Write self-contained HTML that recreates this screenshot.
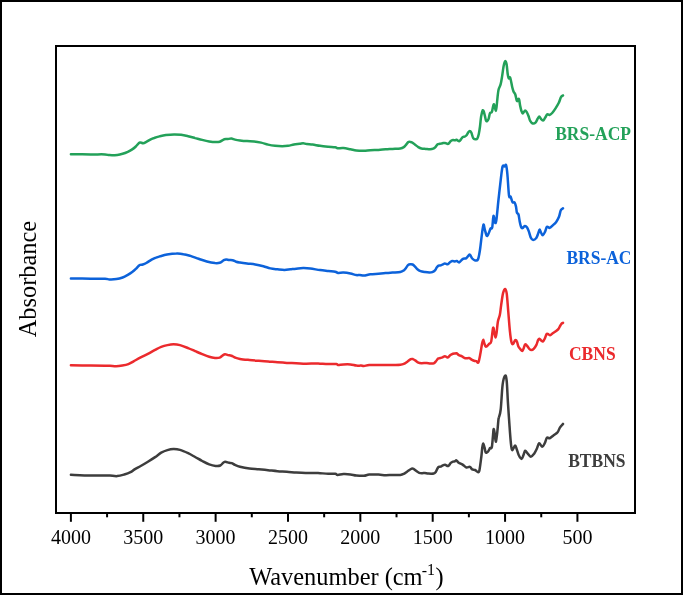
<!DOCTYPE html>
<html><head><meta charset="utf-8"><style>
html,body{margin:0;padding:0;background:#fff;}
svg{display:block;will-change:transform;}
text{font-family:"Liberation Serif",serif;}
</style></head><body>
<svg width="683" height="595" viewBox="0 0 683 595">
<rect x="0" y="0" width="683" height="595" fill="#fff"/>
<rect x="1" y="1" width="681" height="593" fill="none" stroke="#000" stroke-width="2"/>
<g fill="none" stroke-width="2.5" stroke-linejoin="round" stroke-linecap="round">
<path stroke="#23a159" d="M70.9,154.2 C74.20,154.23 85.02,154.37 90.7,154.4 C96.38,154.43 101.88,154.28 105.0,154.4 C108.12,154.52 107.35,155.02 109.4,155.1 C111.45,155.18 115.10,155.12 117.3,154.9 C119.50,154.68 120.85,154.32 122.6,153.8 C124.35,153.28 126.20,152.53 127.8,151.8 C129.40,151.07 130.87,150.28 132.2,149.4 C133.53,148.52 134.77,147.47 135.8,146.5 C136.83,145.53 137.68,144.28 138.4,143.6 C139.12,142.92 139.30,142.47 140.1,142.4 C140.90,142.33 142.17,143.28 143.2,143.2 C144.23,143.12 145.05,142.53 146.3,141.9 C147.55,141.27 149.38,140.06 150.7,139.4 C152.02,138.75 152.73,138.47 154.2,138.0 C155.67,137.47 157.55,136.90 159.5,136.4 C161.45,135.94 163.48,135.45 165.9,135.1 C168.32,134.77 171.47,134.44 174.0,134.4 C176.53,134.34 178.75,134.53 181.1,134.8 C183.45,135.14 185.77,135.68 188.1,136.2 C190.43,136.76 192.75,137.45 195.1,138.1 C197.45,138.69 199.85,139.36 202.2,139.9 C204.55,140.50 206.97,141.11 209.2,141.5 C211.43,141.85 213.85,142.09 215.6,142.1 C217.35,142.17 218.23,142.17 219.7,141.7 C221.17,141.23 223.13,139.73 224.4,139.3 C225.67,138.87 226.13,139.22 227.3,139.1 C228.47,138.98 230.12,138.52 231.4,138.6 C232.68,138.68 233.57,139.30 235.0,139.6 C236.43,139.90 238.00,140.15 240.0,140.4 C242.00,140.65 244.65,140.93 247.0,141.1 C249.35,141.27 251.75,141.15 254.1,141.4 C256.45,141.65 258.77,142.07 261.1,142.6 C263.43,143.13 265.77,144.07 268.1,144.6 C270.43,145.13 272.75,145.53 275.1,145.8 C277.45,146.07 280.05,146.20 282.2,146.2 C284.35,146.20 286.05,146.07 288.0,145.8 C289.95,145.53 291.95,144.93 293.9,144.6 C295.85,144.27 298.15,144.03 299.7,143.8 C301.25,143.57 302.03,143.15 303.2,143.2 C304.37,143.25 305.13,143.87 306.7,144.1 C308.27,144.33 310.38,144.32 312.6,144.6 C314.82,144.88 317.40,145.45 320.0,145.8 C322.60,146.15 325.67,146.45 328.2,146.7 C330.73,146.95 333.63,147.05 335.2,147.3 C336.77,147.55 336.23,148.07 337.6,148.2 C338.97,148.33 341.27,147.92 343.4,148.1 C345.53,148.28 348.25,148.90 350.4,149.3 C352.55,149.70 354.05,150.25 356.3,150.5 C358.55,150.75 361.55,150.85 363.9,150.8 C366.25,150.75 367.97,150.35 370.4,150.2 C372.83,150.05 375.97,150.05 378.5,149.9 C381.03,149.75 383.25,149.47 385.6,149.3 C387.95,149.13 390.15,149.05 392.6,148.9 C395.05,148.75 398.43,148.70 400.3,148.4 C402.17,148.10 402.85,147.70 403.8,147.1 C404.75,146.50 405.27,145.63 406.0,144.8 C406.73,143.97 407.47,142.58 408.2,142.1 C408.93,141.62 409.67,141.80 410.4,141.9 C411.13,142.00 411.80,142.22 412.6,142.7 C413.40,143.18 414.25,144.07 415.2,144.8 C416.15,145.53 417.27,146.48 418.3,147.1 C419.33,147.72 420.15,148.20 421.4,148.5 C422.65,148.80 424.35,148.78 425.8,148.9 C427.25,149.02 428.87,149.23 430.1,149.2 C431.33,149.17 432.32,149.05 433.2,148.7 C434.08,148.35 434.67,147.83 435.4,147.1 C436.13,146.37 436.87,144.85 437.6,144.3 C438.33,143.75 438.98,143.98 439.8,143.8 C440.62,143.62 441.62,143.35 442.5,143.2 C443.38,143.05 444.15,142.78 445.1,142.9 C446.05,143.02 447.25,144.22 448.2,143.9 C449.15,143.58 450.00,141.63 450.8,141.0 C451.60,140.37 452.30,140.22 453.0,140.1 C453.70,139.98 454.42,140.37 455.0,140.3 C455.58,140.23 455.80,139.55 456.5,139.7 C457.20,139.85 458.45,141.27 459.2,141.2 C459.95,141.13 460.38,140.00 461.0,139.3 C461.62,138.60 462.33,137.43 462.9,137.0 C463.47,136.57 463.83,136.95 464.4,136.7 C464.97,136.45 465.67,136.20 466.3,135.5 C466.93,134.80 467.63,133.25 468.2,132.5 C468.77,131.75 469.18,131.00 469.7,131.0 C470.22,131.00 470.72,131.30 471.3,132.5 C471.88,133.70 472.52,137.08 473.2,138.2 C473.88,139.32 474.72,139.13 475.4,139.2 C476.08,139.27 476.73,139.47 477.3,138.6 C477.87,137.73 478.35,136.02 478.8,134.0 C479.25,131.98 479.62,129.40 480.0,126.5 C480.38,123.60 480.67,119.25 481.1,116.6 C481.53,113.95 482.17,111.48 482.6,110.6 C483.03,109.72 483.32,110.42 483.7,111.3 C484.08,112.18 484.52,114.38 484.9,115.9 C485.28,117.42 485.63,119.52 486.0,120.4 C486.37,121.28 486.67,121.45 487.1,121.2 C487.53,120.95 488.15,120.17 488.6,118.9 C489.05,117.63 489.42,114.67 489.8,113.6 C490.18,112.53 490.53,112.82 490.9,112.5 C491.27,112.18 491.55,113.03 492.0,111.7 C492.45,110.37 493.15,105.32 493.6,104.5 C494.05,103.68 494.33,105.72 494.7,106.8 C495.07,107.88 495.48,111.05 495.8,111.0 C496.12,110.95 496.30,108.90 496.6,106.5 C496.90,104.10 497.27,99.43 497.6,96.6 C497.93,93.77 498.10,91.53 498.6,89.5 C499.10,87.47 500.02,86.58 500.6,84.4 C501.18,82.22 501.60,79.42 502.1,76.4 C502.60,73.38 503.10,68.83 503.6,66.3 C504.10,63.77 504.60,61.55 505.1,61.2 C505.60,60.85 506.17,62.07 506.6,64.2 C507.03,66.33 507.35,71.65 507.7,74.0 C508.05,76.35 508.28,77.70 508.7,78.3 C509.12,78.90 509.62,76.15 510.2,77.6 C510.78,79.05 511.65,84.70 512.2,87.0 C512.75,89.30 512.98,90.15 513.5,91.4 C514.02,92.65 514.78,93.03 515.3,94.5 C515.82,95.97 516.23,99.10 516.6,100.2 C516.97,101.30 517.22,101.32 517.5,101.1 C517.78,100.88 518.02,99.12 518.3,98.9 C518.58,98.68 518.90,98.70 519.2,99.8 C519.50,100.90 519.73,103.67 520.1,105.5 C520.47,107.33 520.97,109.48 521.4,110.8 C521.83,112.12 522.12,113.43 522.7,113.4 C523.28,113.37 524.23,110.82 524.9,110.6 C525.57,110.38 526.10,111.20 526.7,112.1 C527.30,113.00 527.92,114.53 528.5,116.0 C529.08,117.47 529.48,119.65 530.2,120.9 C530.92,122.15 531.92,123.22 532.8,123.5 C533.68,123.78 534.68,123.40 535.5,122.6 C536.32,121.80 537.07,119.72 537.7,118.7 C538.33,117.68 538.78,116.50 539.3,116.5 C539.82,116.50 540.18,118.02 540.8,118.7 C541.42,119.38 542.28,120.75 543.0,120.6 C543.72,120.45 544.38,118.85 545.1,117.8 C545.82,116.75 546.57,114.77 547.3,114.3 C548.03,113.83 548.68,115.22 549.5,115.0 C550.32,114.78 551.17,114.15 552.2,113.0 C553.23,111.85 554.60,109.80 555.7,108.1 C556.80,106.40 557.92,104.63 558.8,102.8 C559.68,100.97 560.31,98.33 561.0,97.1 C561.69,95.87 562.62,95.68 563.0,95.4"/>
<path stroke="#0c62da" d="M70.9,278.5 C74.20,278.53 85.02,278.65 90.7,278.7 C96.38,278.75 101.88,278.68 105.0,278.8 C108.12,278.92 107.50,279.35 109.4,279.4 C111.30,279.45 114.20,279.42 116.4,279.1 C118.60,278.78 120.70,278.20 122.6,277.5 C124.50,276.80 126.20,275.80 127.8,274.9 C129.40,274.00 130.87,273.10 132.2,272.1 C133.53,271.10 134.77,269.90 135.8,268.9 C136.83,267.90 137.68,266.78 138.4,266.1 C139.12,265.42 139.37,265.07 140.1,264.8 C140.83,264.53 141.77,264.80 142.8,264.5 C143.83,264.20 144.83,263.82 146.3,263.0 C147.77,262.18 149.98,260.50 151.6,259.6 C153.22,258.68 154.60,258.12 156.0,257.6 C157.40,257.02 158.17,256.81 160.0,256.3 C161.83,255.82 164.27,255.06 167.0,254.6 C169.73,254.14 173.67,253.63 176.4,253.6 C179.13,253.49 181.07,253.75 183.4,254.2 C185.73,254.55 187.87,255.18 190.4,255.9 C192.93,256.72 195.87,257.85 198.6,258.8 C201.33,259.69 204.07,260.77 206.8,261.5 C209.53,262.19 212.85,262.83 215.0,263.1 C217.15,263.27 218.23,263.28 219.7,262.8 C221.17,262.32 222.72,260.77 223.8,260.2 C224.88,259.63 225.32,259.43 226.2,259.4 C227.08,259.37 228.03,259.87 229.1,260.0 C230.17,260.13 231.43,259.92 232.6,260.2 C233.77,260.48 234.87,261.32 236.1,261.7 C237.33,262.08 238.18,262.20 240.0,262.5 C241.82,262.80 244.47,263.18 247.0,263.5 C249.53,263.82 252.47,263.95 255.2,264.4 C257.93,264.85 260.87,265.53 263.4,266.2 C265.93,266.87 268.05,267.88 270.4,268.4 C272.75,268.92 275.15,269.05 277.5,269.3 C279.85,269.55 282.35,269.90 284.5,269.9 C286.65,269.90 288.45,269.50 290.4,269.3 C292.35,269.10 294.07,268.90 296.2,268.7 C298.33,268.50 300.85,268.13 303.2,268.1 C305.55,268.07 307.50,268.17 310.3,268.5 C313.10,268.83 317.02,269.68 320.0,270.1 C322.98,270.52 325.67,270.73 328.2,271.0 C330.73,271.27 333.55,271.38 335.2,271.7 C336.85,272.02 336.73,272.75 338.1,272.9 C339.47,273.05 341.35,272.50 343.4,272.6 C345.45,272.70 348.25,273.08 350.4,273.5 C352.55,273.92 354.73,274.87 356.3,275.1 C357.87,275.33 358.53,274.83 359.8,274.9 C361.07,274.97 362.13,275.60 363.9,275.5 C365.67,275.40 367.97,274.60 370.4,274.3 C372.83,274.00 375.97,273.90 378.5,273.7 C381.03,273.50 383.25,273.28 385.6,273.1 C387.95,272.92 390.15,272.78 392.6,272.6 C395.05,272.42 398.43,272.37 400.3,272.0 C402.17,271.63 402.85,271.07 403.8,270.4 C404.75,269.73 405.27,268.92 406.0,268.0 C406.73,267.08 407.47,265.53 408.2,264.9 C408.93,264.27 409.67,264.27 410.4,264.2 C411.13,264.13 411.87,264.15 412.6,264.5 C413.33,264.85 414.00,265.50 414.8,266.3 C415.60,267.10 416.45,268.50 417.4,269.3 C418.35,270.10 419.25,270.65 420.5,271.1 C421.75,271.55 423.43,271.77 424.9,272.0 C426.37,272.23 428.07,272.48 429.3,272.5 C430.53,272.52 431.35,272.45 432.3,272.1 C433.25,271.75 434.27,271.15 435.0,270.4 C435.73,269.65 436.12,268.40 436.7,267.6 C437.28,266.80 437.83,265.97 438.5,265.6 C439.17,265.23 439.97,265.62 440.7,265.4 C441.43,265.18 442.20,264.63 442.9,264.3 C443.60,263.97 444.10,263.42 444.9,263.4 C445.70,263.38 446.87,264.38 447.7,264.2 C448.53,264.02 449.17,262.83 449.9,262.3 C450.63,261.77 451.25,261.15 452.1,261.0 C452.95,260.85 454.22,261.40 455.0,261.4 C455.78,261.40 456.08,260.83 456.8,261.0 C457.52,261.17 458.33,262.72 459.3,262.4 C460.27,262.08 461.42,259.82 462.6,259.1 C463.78,258.38 465.22,258.85 466.4,258.1 C467.58,257.35 468.73,254.53 469.7,254.6 C470.67,254.67 471.30,257.53 472.2,258.5 C473.10,259.47 474.13,260.25 475.1,260.4 C476.07,260.55 477.18,261.17 478.0,259.4 C478.82,257.63 479.35,253.98 480.0,249.8 C480.65,245.62 481.32,238.50 481.9,234.3 C482.48,230.10 483.02,225.40 483.5,224.6 C483.98,223.80 484.25,227.62 484.8,229.5 C485.35,231.38 486.15,235.27 486.8,235.9 C487.45,236.53 488.07,234.53 488.7,233.3 C489.33,232.07 490.02,229.47 490.6,228.5 C491.18,227.53 491.72,229.60 492.2,227.5 C492.68,225.40 493.02,216.70 493.5,215.9 C493.98,215.10 494.62,222.05 495.1,222.7 C495.58,223.35 495.85,223.50 496.4,219.8 C496.95,216.10 497.68,207.12 498.4,200.5 C499.12,193.88 500.00,185.78 500.7,180.1 C501.40,174.42 501.93,168.68 502.6,166.4 C503.27,164.12 504.12,166.62 504.7,166.4 C505.28,166.18 505.65,163.78 506.1,165.1 C506.55,166.42 506.92,169.22 507.4,174.3 C507.88,179.38 508.48,191.90 509.0,195.6 C509.52,199.30 510.03,195.73 510.5,196.5 C510.97,197.27 511.42,199.20 511.8,200.2 C512.18,201.20 512.33,202.12 512.8,202.5 C513.27,202.88 514.07,201.82 514.6,202.5 C515.13,203.18 515.62,204.92 516.0,206.6 C516.38,208.28 516.48,211.28 516.9,212.6 C517.32,213.92 518.03,213.03 518.5,214.5 C518.97,215.97 519.27,219.32 519.7,221.4 C520.13,223.48 520.63,225.88 521.1,227.0 C521.57,228.12 521.88,228.28 522.5,228.1 C523.12,227.92 524.03,226.02 524.8,225.9 C525.57,225.78 526.42,226.45 527.1,227.4 C527.78,228.35 528.28,229.90 528.9,231.6 C529.52,233.30 530.10,236.22 530.8,237.6 C531.50,238.98 532.18,239.85 533.1,239.9 C534.02,239.95 535.45,238.98 536.3,237.9 C537.15,236.82 537.65,234.78 538.2,233.4 C538.75,232.02 539.13,229.75 539.6,229.6 C540.07,229.45 540.47,231.55 541.0,232.5 C541.53,233.45 542.12,235.45 542.8,235.3 C543.48,235.15 544.40,233.02 545.1,231.6 C545.80,230.18 546.23,227.42 547.0,226.8 C547.77,226.18 548.78,228.10 549.7,227.9 C550.62,227.70 551.42,226.60 552.5,225.6 C553.58,224.60 555.12,223.37 556.2,221.9 C557.28,220.43 558.23,218.73 559.0,216.8 C559.77,214.87 560.14,211.72 560.8,210.3 C561.46,208.88 562.59,208.63 563.0,208.3"/>
<path stroke="#eb2a2d" d="M70.9,365.3 C74.20,365.33 85.02,365.42 90.7,365.5 C96.38,365.58 101.78,365.77 105.0,365.8 C108.22,365.83 108.15,365.62 110.0,365.7 C111.85,365.78 114.05,366.32 116.1,366.3 C118.15,366.28 120.25,365.97 122.3,365.6 C124.35,365.23 126.52,364.82 128.4,364.1 C130.28,363.38 131.55,362.42 133.6,361.3 C135.65,360.18 138.32,358.65 140.7,357.4 C143.08,356.15 145.50,355.05 147.9,353.8 C150.30,352.55 152.88,351.05 155.1,349.9 C157.32,348.75 159.15,347.70 161.2,346.9 C163.25,346.10 165.35,345.53 167.4,345.1 C169.45,344.67 171.40,344.30 173.5,344.3 C175.60,344.30 177.57,344.47 180.0,345.1 C182.43,345.73 185.58,347.07 188.1,348.1 C190.62,349.07 192.75,350.08 195.1,351.1 C197.45,352.10 199.85,353.17 202.2,354.1 C204.55,355.05 207.07,356.10 209.2,356.7 C211.33,357.36 213.25,357.73 215.0,357.9 C216.75,358.01 218.43,358.00 219.7,357.6 C220.97,357.21 221.72,356.05 222.6,355.5 C223.48,354.95 224.12,354.37 225.0,354.3 C225.88,354.23 226.83,354.87 227.9,355.1 C228.97,355.33 230.22,355.30 231.4,355.7 C232.58,356.10 233.57,356.97 235.0,357.5 C236.43,358.03 237.60,358.48 240.0,358.9 C242.40,359.32 246.28,359.68 249.4,360.0 C252.52,360.32 255.58,360.55 258.7,360.8 C261.82,361.05 264.97,361.25 268.1,361.5 C271.23,361.75 274.38,362.07 277.5,362.3 C280.62,362.53 283.68,362.75 286.8,362.9 C289.92,363.05 293.07,363.07 296.2,363.2 C299.33,363.33 302.48,363.65 305.6,363.7 C308.72,363.75 312.50,363.50 314.9,363.5 C317.30,363.50 317.78,363.60 320.0,363.7 C322.22,363.80 325.47,364.03 328.2,364.1 C330.93,364.17 334.75,363.95 336.4,364.1 C338.05,364.25 336.93,364.95 338.1,365.0 C339.27,365.05 341.35,364.50 343.4,364.4 C345.45,364.30 348.25,364.20 350.4,364.4 C352.55,364.60 354.53,365.40 356.3,365.6 C358.07,365.80 359.73,365.53 361.0,365.6 C362.27,365.67 362.53,366.10 363.9,366.0 C365.27,365.90 366.77,365.18 369.2,365.0 C371.63,364.82 375.38,364.92 378.5,364.9 C381.62,364.88 385.17,364.90 387.9,364.9 C390.63,364.90 392.83,364.93 394.9,364.9 C396.97,364.87 398.82,364.87 400.3,364.7 C401.78,364.53 402.63,364.40 403.8,363.9 C404.97,363.40 406.13,362.50 407.3,361.7 C408.47,360.90 409.85,359.53 410.8,359.1 C411.75,358.67 412.27,358.88 413.0,359.1 C413.73,359.32 414.32,359.82 415.2,360.4 C416.08,360.98 417.27,362.13 418.3,362.6 C419.33,363.07 420.02,363.13 421.4,363.2 C422.78,363.27 425.15,362.95 426.6,363.0 C428.05,363.05 428.92,363.45 430.1,363.5 C431.28,363.55 432.73,363.67 433.7,363.3 C434.67,362.93 435.17,362.08 435.9,361.3 C436.63,360.52 437.37,359.15 438.1,358.6 C438.83,358.05 439.57,358.22 440.3,358.0 C441.03,357.78 441.73,357.60 442.5,357.3 C443.27,357.00 444.03,356.17 444.9,356.2 C445.77,356.23 446.78,357.68 447.7,357.5 C448.62,357.32 449.52,355.72 450.4,355.1 C451.28,354.48 452.23,354.07 453.0,353.8 C453.77,353.53 454.43,353.60 455.0,353.5 C455.57,353.40 455.77,352.93 456.4,353.2 C457.03,353.47 457.87,354.57 458.8,355.1 C459.73,355.63 460.93,355.87 462.0,356.4 C463.07,356.93 464.00,358.03 465.2,358.3 C466.40,358.57 468.13,357.78 469.2,358.0 C470.27,358.22 470.80,359.15 471.6,359.6 C472.40,360.05 473.20,360.43 474.0,360.7 C474.80,360.97 475.67,360.93 476.4,361.2 C477.13,361.47 477.73,363.58 478.4,362.3 C479.07,361.02 479.80,356.57 480.4,353.5 C481.00,350.43 481.53,346.17 482.0,343.9 C482.47,341.63 482.82,340.03 483.2,339.9 C483.58,339.77 483.85,341.95 484.3,343.1 C484.75,344.25 485.10,346.67 485.9,346.8 C486.70,346.93 488.22,344.78 489.1,343.9 C489.98,343.02 490.53,344.17 491.2,341.5 C491.87,338.83 492.57,329.37 493.1,327.9 C493.63,326.43 494.00,331.10 494.4,332.7 C494.80,334.30 495.13,337.50 495.5,337.5 C495.87,337.50 496.20,335.37 496.6,332.7 C497.00,330.03 497.37,324.43 497.9,321.5 C498.43,318.57 499.27,317.75 499.8,315.1 C500.33,312.45 500.57,309.22 501.1,305.6 C501.63,301.98 502.33,296.18 503.0,293.4 C503.67,290.62 504.48,288.90 505.1,288.9 C505.72,288.90 506.17,289.55 506.7,293.4 C507.23,297.25 507.77,305.72 508.3,312.0 C508.83,318.28 509.37,326.05 509.9,331.1 C510.43,336.15 510.97,340.15 511.5,342.3 C512.03,344.45 512.47,344.38 513.1,344.0 C513.73,343.62 514.65,340.37 515.3,340.0 C515.95,339.63 516.50,340.77 517.0,341.8 C517.50,342.83 517.78,345.03 518.3,346.2 C518.82,347.37 519.43,348.00 520.1,348.8 C520.77,349.60 521.72,351.07 522.3,351.0 C522.88,350.93 523.13,349.50 523.6,348.4 C524.07,347.30 524.52,344.83 525.1,344.4 C525.68,343.97 526.40,345.07 527.1,345.8 C527.80,346.53 528.57,348.10 529.3,348.8 C530.03,349.50 530.77,350.00 531.5,350.0 C532.23,350.00 532.88,349.65 533.7,348.8 C534.52,347.95 535.67,346.37 536.4,344.9 C537.13,343.43 537.60,341.03 538.1,340.0 C538.60,338.97 538.88,338.62 539.4,338.7 C539.92,338.78 540.60,340.05 541.2,340.5 C541.80,340.95 542.42,341.70 543.0,341.4 C543.58,341.10 544.12,339.90 544.7,338.7 C545.28,337.50 545.98,335.00 546.5,334.2 C547.02,333.40 547.22,333.73 547.8,333.9 C548.38,334.07 549.12,335.35 550.0,335.2 C550.88,335.05 552.15,333.65 553.1,333.0 C554.05,332.35 554.83,331.95 555.7,331.3 C556.57,330.65 557.57,329.98 558.3,329.1 C559.03,328.22 559.58,326.88 560.1,326.0 C560.62,325.12 560.92,324.32 561.4,323.8 C561.88,323.28 562.69,323.05 563.0,322.9"/>
<path stroke="#3d3d3d" d="M70.9,474.8 C74.20,474.92 85.02,475.37 90.7,475.5 C96.38,475.63 101.78,475.58 105.0,475.6 C108.22,475.62 107.97,475.52 110.0,475.6 C112.03,475.68 114.82,476.28 117.2,476.1 C119.58,475.92 122.08,475.15 124.3,474.5 C126.52,473.85 128.78,473.05 130.5,472.2 C132.22,471.35 132.90,470.43 134.6,469.4 C136.30,468.37 138.48,467.28 140.7,466.0 C142.92,464.72 145.50,463.18 147.9,461.7 C150.30,460.22 152.88,458.60 155.1,457.1 C157.32,455.60 159.15,453.87 161.2,452.7 C163.25,451.53 165.35,450.70 167.4,450.1 C169.45,449.50 171.40,449.13 173.5,449.1 C175.60,449.07 177.57,449.22 180.0,449.9 C182.43,450.58 185.58,452.02 188.1,453.2 C190.62,454.38 192.75,455.69 195.1,457.0 C197.45,458.29 199.85,459.77 202.2,461.0 C204.55,462.25 206.97,463.59 209.2,464.4 C211.43,465.23 213.75,465.77 215.6,465.9 C217.45,466.13 219.03,466.02 220.3,465.5 C221.57,464.98 222.37,463.43 223.2,462.8 C224.03,462.17 224.32,461.70 225.3,461.7 C226.28,461.70 228.03,462.57 229.1,462.8 C230.17,463.03 230.72,462.75 231.7,463.1 C232.68,463.45 233.62,464.30 235.0,464.9 C236.38,465.50 237.60,466.10 240.0,466.7 C242.40,467.30 246.28,468.07 249.4,468.5 C252.52,468.93 255.58,469.02 258.7,469.3 C261.82,469.58 264.97,469.88 268.1,470.2 C271.23,470.52 274.38,470.95 277.5,471.2 C280.62,471.45 283.68,471.47 286.8,471.7 C289.92,471.93 293.07,472.37 296.2,472.6 C299.33,472.83 302.48,473.05 305.6,473.1 C308.72,473.15 312.50,472.88 314.9,472.9 C317.30,472.92 317.78,473.07 320.0,473.2 C322.22,473.33 325.67,473.60 328.2,473.7 C330.73,473.80 333.63,473.60 335.2,473.8 C336.77,474.00 336.23,474.85 337.6,474.9 C338.97,474.95 341.27,474.18 343.4,474.1 C345.53,474.02 348.25,474.17 350.4,474.4 C352.55,474.63 354.05,475.27 356.3,475.5 C358.55,475.73 361.75,475.95 363.9,475.8 C366.05,475.65 366.77,474.80 369.2,474.6 C371.63,474.40 375.77,474.50 378.5,474.6 C381.23,474.70 383.25,475.15 385.6,475.2 C387.95,475.25 390.15,474.95 392.6,474.9 C395.05,474.85 398.43,475.07 400.3,474.9 C402.17,474.73 402.63,474.47 403.8,473.9 C404.97,473.33 405.98,472.38 407.3,471.5 C408.62,470.62 410.60,469.00 411.7,468.6 C412.80,468.20 413.17,468.73 413.9,469.1 C414.63,469.47 415.22,470.18 416.1,470.8 C416.98,471.42 418.18,472.40 419.2,472.8 C420.22,473.20 421.25,473.17 422.2,473.2 C423.15,473.23 423.87,472.93 424.9,473.0 C425.93,473.07 426.93,473.52 428.4,473.6 C429.87,473.68 432.45,473.82 433.7,473.5 C434.95,473.18 435.17,472.73 435.9,471.7 C436.63,470.67 437.37,468.13 438.1,467.3 C438.83,466.47 439.50,467.02 440.3,466.7 C441.10,466.38 442.10,465.72 442.9,465.4 C443.70,465.08 444.22,464.70 445.1,464.8 C445.98,464.90 447.25,466.32 448.2,466.0 C449.15,465.68 450.00,463.63 450.8,462.9 C451.60,462.17 452.30,461.87 453.0,461.6 C453.70,461.33 454.43,461.50 455.0,461.3 C455.57,461.10 455.78,460.17 456.4,460.4 C457.02,460.63 457.67,462.00 458.7,462.7 C459.73,463.40 461.32,463.80 462.6,464.6 C463.88,465.40 465.18,467.12 466.4,467.5 C467.62,467.88 468.93,466.58 469.9,466.9 C470.87,467.22 471.33,468.88 472.2,469.4 C473.07,469.92 474.12,469.53 475.1,470.0 C476.08,470.47 477.37,472.22 478.1,472.2 C478.83,472.18 478.97,472.43 479.5,469.9 C480.03,467.37 480.83,460.73 481.3,457.0 C481.77,453.27 481.98,449.73 482.3,447.5 C482.62,445.27 482.82,443.57 483.2,443.6 C483.58,443.63 484.18,446.22 484.6,447.7 C485.02,449.18 485.17,451.80 485.7,452.5 C486.23,453.20 487.22,452.38 487.8,451.9 C488.38,451.42 488.82,450.25 489.2,449.6 C489.58,448.95 489.67,448.38 490.1,448.0 C490.53,447.62 491.33,449.20 491.8,447.3 C492.27,445.40 492.60,439.62 492.9,436.6 C493.20,433.58 493.32,429.82 493.6,429.2 C493.88,428.58 494.25,430.82 494.6,432.9 C494.95,434.98 495.28,441.53 495.7,441.7 C496.12,441.87 496.65,437.52 497.1,433.9 C497.55,430.28 498.13,422.62 498.4,420.0 C498.67,417.38 498.32,419.95 498.7,418.2 C499.08,416.45 500.05,415.07 500.7,409.5 C501.35,403.93 501.87,390.45 502.6,384.8 C503.33,379.15 504.42,376.23 505.1,375.6 C505.78,374.97 506.22,376.32 506.7,381.0 C507.18,385.68 507.45,395.08 508.0,403.7 C508.55,412.32 509.48,425.80 510.0,432.7 C510.52,439.60 510.72,442.18 511.1,445.1 C511.48,448.02 511.63,450.12 512.3,450.2 C512.97,450.28 514.33,445.68 515.1,445.6 C515.87,445.52 516.28,448.08 516.9,449.7 C517.52,451.32 518.02,453.75 518.8,455.3 C519.58,456.85 520.83,459.00 521.6,459.0 C522.37,459.00 522.80,456.68 523.4,455.3 C524.00,453.92 524.50,451.02 525.2,450.7 C525.90,450.38 526.67,452.40 527.6,453.4 C528.53,454.40 529.73,456.62 530.8,456.7 C531.87,456.78 533.00,455.22 534.0,453.9 C535.00,452.58 535.95,450.57 536.8,448.8 C537.65,447.03 538.18,443.63 539.1,443.3 C540.02,442.97 541.37,446.80 542.3,446.8 C543.23,446.80 543.92,444.82 544.7,443.3 C545.48,441.78 546.17,438.55 547.0,437.7 C547.83,436.85 548.63,438.58 549.7,438.2 C550.77,437.82 552.08,436.40 553.4,435.4 C554.72,434.40 556.52,433.50 557.6,432.2 C558.68,430.90 559.01,428.98 559.9,427.6 C560.79,426.22 562.44,424.52 563.0,423.9"/>
</g>
<rect x="56" y="46" width="579" height="467" fill="none" stroke="#000" stroke-width="2"/>
<g stroke="#000" stroke-width="2">
<line x1="70.90" y1="514" x2="70.90" y2="521.8"/>
<line x1="107.08" y1="514" x2="107.08" y2="517.3"/>
<line x1="143.26" y1="514" x2="143.26" y2="521.8"/>
<line x1="179.44" y1="514" x2="179.44" y2="517.3"/>
<line x1="215.62" y1="514" x2="215.62" y2="521.8"/>
<line x1="251.80" y1="514" x2="251.80" y2="517.3"/>
<line x1="287.98" y1="514" x2="287.98" y2="521.8"/>
<line x1="324.16" y1="514" x2="324.16" y2="517.3"/>
<line x1="360.34" y1="514" x2="360.34" y2="521.8"/>
<line x1="396.52" y1="514" x2="396.52" y2="517.3"/>
<line x1="432.70" y1="514" x2="432.70" y2="521.8"/>
<line x1="468.88" y1="514" x2="468.88" y2="517.3"/>
<line x1="505.06" y1="514" x2="505.06" y2="521.8"/>
<line x1="541.24" y1="514" x2="541.24" y2="517.3"/>
<line x1="577.42" y1="514" x2="577.42" y2="521.8"/>
</g>
<g font-size="20" text-anchor="middle" fill="#000">
<text x="70.90" y="543.5">4000</text>
<text x="143.26" y="543.5">3500</text>
<text x="215.62" y="543.5">3000</text>
<text x="287.98" y="543.5">2500</text>
<text x="360.34" y="543.5">2000</text>
<text x="432.70" y="543.5">1500</text>
<text x="505.06" y="543.5">1000</text>
<text x="577.42" y="543.5">500</text>
</g>
<g transform="translate(249.2,584.6) scale(1,1.04)" fill="#000"><text x="0" y="0" font-size="24.4">Wavenumber (cm</text><text x="172.5" y="-8.4" font-size="16">-</text><text x="177.8" y="-9.1" font-size="16">1</text><text x="186.3" y="0" font-size="24.4">)</text></g>
<g transform="translate(36,279.05) rotate(-90) scale(1,1.04)"><text x="0" y="0" font-size="24.4" text-anchor="middle" fill="#000">Absorbance</text></g>
<g font-size="17.5" font-weight="bold">
<g transform="translate(555.2,140.4) scale(1,1.02)"><text fill="#23a159">BRS-ACP</text></g>
<g transform="translate(566.4,263.5) scale(1,1.02)"><text fill="#0c62da">BRS-AC</text></g>
<g transform="translate(569.0,359.7) scale(1,1.02)"><text fill="#eb2a2d">CBNS</text></g>
<g transform="translate(568.2,467.0) scale(1,1.02)"><text fill="#3d3d3d">BTBNS</text></g>
</g>
</svg>
</body></html>
